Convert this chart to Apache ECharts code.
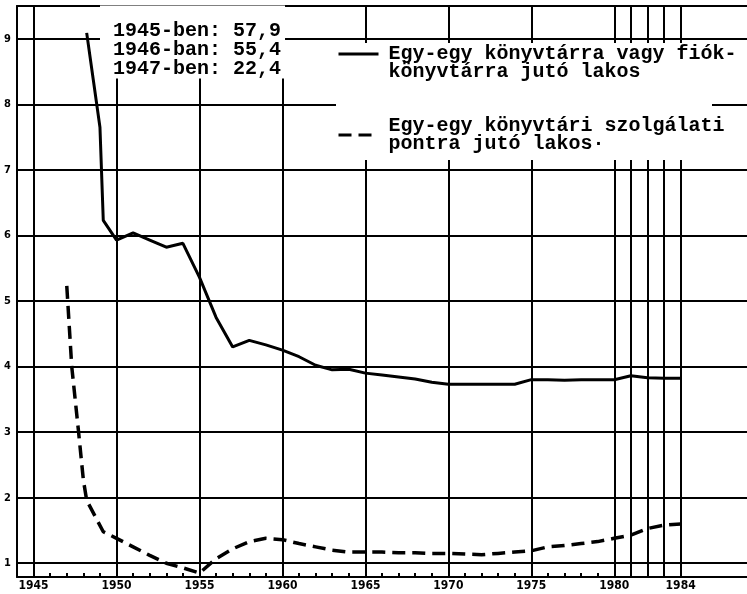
<!DOCTYPE html>
<html>
<head>
<meta http-equiv="Content-Type" content="text/html; charset=UTF-8">
<title>Könyvtárra jutó lakos</title>
<script type="text/javascript" src="https://cdn.jsdelivr.net/npm/echarts@6/dist/echarts.min.js"></script>
<style>
    html, body { margin: 0; padding: 0; background: #fff; }
</style>
</head>
<body>
    <div id="main" style="width: 747px; height: 594px;"></div>
    <script type="text/javascript">
        // adatok (ezer lakos)
        var solidYears = [1948.2, 1948.6, 1949.0, 1949.2, 1950, 1951, 1952, 1953, 1954, 1955, 1956, 1957, 1958, 1959,
            1960, 1961, 1962, 1963, 1964, 1965, 1966, 1967, 1968, 1969, 1970, 1971, 1972, 1973, 1974,
            1975, 1976, 1977, 1978, 1979, 1980, 1981, 1982, 1983, 1984];
        var solidValues = [9.09, 8.37, 7.65, 6.23, 5.93, 6.04, 5.93, 5.82, 5.88, 5.36, 4.75, 4.30, 4.40, 4.33,
            4.25, 4.15, 4.02, 3.95, 3.96, 3.90, 3.87, 3.84, 3.81, 3.76, 3.73, 3.73, 3.73, 3.73, 3.73,
            3.80, 3.80, 3.79, 3.80, 3.80, 3.80, 3.86, 3.83, 3.82, 3.82];
        var dashedYears = [1947.0, 1947.3, 1947.7, 1948.0, 1948.2, 1949.2, 1950, 1951, 1952, 1953, 1954, 1955,
            1956, 1957, 1958, 1959, 1960, 1961, 1962, 1963, 1964, 1965, 1966, 1967, 1968, 1969, 1970,
            1971, 1972, 1973, 1974, 1975, 1976, 1977, 1978, 1979, 1980, 1981, 1982, 1983, 1984];
        var dashedValues = [5.23, 4.00, 3.03, 2.27, 1.96, 1.48, 1.38, 1.25, 1.12, 1.00, 0.93, 0.85,
            1.07, 1.22, 1.33, 1.38, 1.36, 1.30, 1.25, 1.20, 1.17, 1.17, 1.17, 1.16, 1.16, 1.15, 1.15,
            1.14, 1.13, 1.15, 1.17, 1.19, 1.25, 1.27, 1.30, 1.33, 1.38, 1.43, 1.53, 1.58, 1.60];

        var xLabelYears = [1945, 1950, 1955, 1960, 1965, 1970, 1975, 1980, 1984];
        var xGridYears = [1945, 1950, 1955, 1960, 1965, 1970, 1975, 1980, 1981, 1982, 1983, 1984];
        var xTickYears = [];
        for (var y = 1946; y <= 1979; y++) xTickYears.push(y);
        var yTicks = [1, 2, 3, 4, 5, 6, 7, 8, 9];

        var solidName = 'Egy-egy könyvtárra vagy fiók-\nkönyvtárra jutó lakos';
        var dashedName = 'Egy-egy könyvtári szolgálati\npontra jutó lakos·';
        var noteText = '1945-ben: 57,9\n1946-ban: 55,4\n1947-ben: 22,4';

        function pairs(xs, vs) {
            var out = [];
            for (var i = 0; i < xs.length; i++) out.push([xs[i], vs[i]]);
            return out;
        }

        var gridLines = [];
        for (var i = 0; i < yTicks.length; i++) gridLines.push({ yAxis: yTicks[i] });
        for (var i = 0; i < xGridYears.length; i++) gridLines.push({ xAxis: xGridYears[i] });

        var mono = '"Liberation Mono", "DejaVu Sans Mono", monospace';
        var narrow = '"Liberation Sans Narrow", "DejaVu Sans Condensed", "DejaVu Sans", sans-serif';

        var myChart = echarts.init(document.getElementById('main'));
        myChart.setOption({
            animation: false,
            backgroundColor: '#fff',
            title: {
                text: noteText,
                left: 100,
                top: 6,
                z: 10,
                backgroundColor: '#fff',
                padding: [15, 4, 0, 13],
                textStyle: {
                    fontFamily: mono,
                    fontWeight: 'bold',
                    fontSize: 20,
                    lineHeight: 19,
                    color: '#000'
                }
            },
            // fehér háttér a jelmagyarázat mögött
            graphic: [{
                type: 'rect', z: 8, silent: true,
                shape: { x: 336, y: 43, width: 404, height: 46 },
                style: { fill: '#fff' }
            }, {
                type: 'rect', z: 8, silent: true,
                shape: { x: 336, y: 88, width: 376, height: 72 },
                style: { fill: '#fff' }
            }],
            legend: {
                orient: 'vertical',
                left: 337,
                top: 26,
                z: 10,
                padding: 0,
                itemWidth: 40,
                itemHeight: 14,
                itemGap: 34,
                selectedMode: false,
                itemStyle: { opacity: 0, borderWidth: 0 },
                lineStyle: { width: 3 },
                formatter: function (name) {
                    // az első jel az első sorhoz igazodik
                    return name === solidName ? '\n' + name : name;
                },
                textStyle: {
                    fontFamily: mono,
                    fontWeight: 'bold',
                    fontSize: 20,
                    lineHeight: 18,
                    color: '#000',
                    padding: [0, 0, 0, 5]
                },
                data: [solidName, dashedName]
            },
            grid: { left: 17, right: 0, top: 6, bottom: 17 },
            xAxis: [{
                type: 'value',
                min: 1944,
                max: 1988,
                axisLine: { show: true, lineStyle: { color: '#000', width: 2 } },
                axisTick: {
                    show: true, inside: true, length: 4,
                    customValues: xTickYears,
                    lineStyle: { color: '#000', width: 2 }
                },
                axisLabel: {
                    customValues: xLabelYears,
                    formatter: function (v) { return String(v); },
                    margin: 3,
                    fontFamily: narrow,
                    fontWeight: 'bold',
                    fontSize: 12,
                    color: '#000'
                },
                splitLine: { show: false }
            }, {
                type: 'value',
                position: 'top',
                min: 1944,
                max: 1988,
                axisLine: { show: true, onZero: false, lineStyle: { color: '#000', width: 2 } },
                axisTick: { show: false },
                axisLabel: { show: false },
                splitLine: { show: false }
            }],
            yAxis: {
                type: 'value',
                min: 0.79,
                max: 9.5,
                axisLine: { show: true, lineStyle: { color: '#000', width: 2 } },
                axisTick: { show: false },
                axisLabel: {
                    customValues: yTicks,
                    margin: 6,
                    fontFamily: narrow,
                    fontWeight: 'bold',
                    fontSize: 11,
                    color: '#000'
                },
                splitLine: { show: false }
            },
            series: [{
                name: solidName,
                type: 'line',
                symbol: 'none',
                data: pairs(solidYears, solidValues),
                lineStyle: { color: '#000', width: 3 },
                itemStyle: { color: '#000' },
                markLine: {
                    silent: true,
                    symbol: ['none', 'none'],
                    label: { show: false },
                    lineStyle: { color: '#000', width: 2, type: 'solid' },
                    data: gridLines
                }
            }, {
                name: dashedName,
                type: 'line',
                symbol: 'none',
                data: pairs(dashedYears, dashedValues),
                lineStyle: { color: '#000', width: 3.5, type: [13, 7] },
                itemStyle: { color: '#000' }
            }]
        });
    </script>
</body>
</html>
